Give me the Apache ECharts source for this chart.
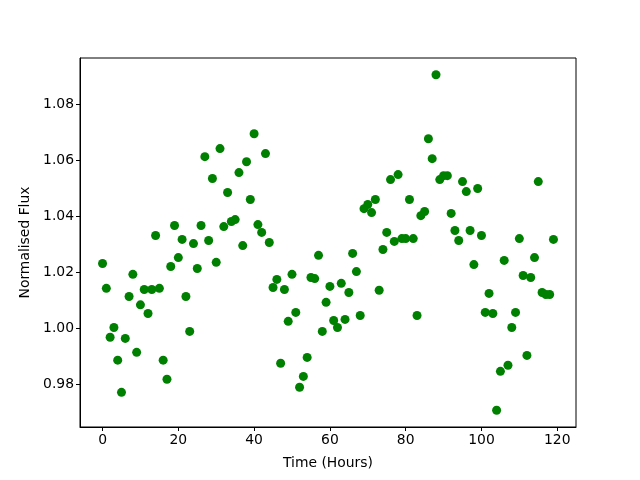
<!DOCTYPE html>
<html>
<head>
<meta charset="utf-8">
<script src="https://cdn.jsdelivr.net/npm/echarts@6/dist/echarts.min.js"></script>
<style>
  html, body { margin: 0; padding: 0; background: #fff; }
  #chart { width: 640px; height: 480px; }
</style>
</head>
<body>
<div id="chart"></div>
<script>
// time in hours
var hours = [
  0, 1, 2, 3, 4, 5, 6, 7, 8, 9, 10, 11, 12, 13, 14, 15, 16, 17, 18, 19,
  20, 21, 22, 23, 24, 25, 26, 27, 28, 29, 30, 31, 32, 33, 34, 35, 36, 37, 38, 39,
  40, 41, 42, 43, 44, 45, 46, 47, 48, 49, 50, 51, 52, 53, 54, 55, 56, 57, 58, 59,
  60, 61, 62, 63, 64, 65, 66, 67, 68, 69, 70, 71, 72, 73, 74, 75, 76, 77, 78, 79,
  80, 81, 82, 83, 84, 85, 86, 87, 88, 89, 90, 91, 92, 93, 94, 95, 96, 97, 98, 99,
  100, 101, 102, 103, 104, 105, 106, 107, 108, 109, 110, 111, 112, 113, 114, 115, 116, 117, 118, 119
];
// normalised flux
var flux = [
  1.0231, 1.0142, 0.9967, 1.0002, 0.9885, 0.9770, 0.9963, 1.0113, 1.0192, 0.9913,
  1.0083, 1.0138, 1.0052, 1.0138, 1.0331, 1.0142, 0.9885, 0.9817, 1.0220, 1.0367,
  1.0252, 1.0317, 1.0113, 0.9988, 1.0302, 1.0213, 1.0367, 1.0613, 1.0313, 1.0535,
  1.0235, 1.0642, 1.0363, 1.0485, 1.0381, 1.0388, 1.0556, 1.0295, 1.0595, 1.0460,
  1.0695, 1.0370, 1.0342, 1.0624, 1.0306, 1.0145, 1.0174, 0.9874, 1.0138, 1.0024,
  1.0192, 1.0056, 0.9788, 0.9827, 0.9895, 1.0181, 1.0177, 1.0260, 0.9988, 1.0092,
  1.0149, 1.0027, 1.0002, 1.0160, 1.0031, 1.0127, 1.0267, 1.0202, 1.0045, 1.0427,
  1.0442, 1.0413, 1.0460, 1.0135, 1.0281, 1.0342, 1.0531, 1.0310, 1.0549, 1.0320,
  1.0320, 1.0460, 1.0320, 1.0045, 1.0402, 1.0417, 1.0677, 1.0606, 1.0906, 1.0531,
  1.0545, 1.0545, 1.0410, 1.0349, 1.0313, 1.0524, 1.0488, 1.0349, 1.0227, 1.0499,
  1.0331, 1.0056, 1.0124, 1.0052, 0.9706, 0.9845, 1.0242, 0.9867, 1.0002, 1.0056,
  1.0320, 1.0188, 0.9902, 1.0181, 1.0252, 1.0524, 1.0127, 1.0120, 1.0120, 1.0317
];
var xTicks = [0, 20, 40, 60, 80, 100, 120];
var yTicks = [0.98, 1.00, 1.02, 1.04, 1.06, 1.08];

var myChart = echarts.init(document.getElementById("chart"));

var points = [];
for (var i = 0; i < hours.length; i++) {
  points.push([hours[i], flux[i]]);
}

var labelFont = {
  color: "#000",
  fontFamily: "DejaVu Sans",
  fontSize: 13.9,
};

myChart.setOption({
  backgroundColor: "#fff",
  animation: false,
  grid: {
    left: 80,
    right: 64,
    top: 58,
    bottom: 53,
    show: true,
    borderColor: "#000",
    borderWidth: 1,
    backgroundColor: "transparent",
  },
  xAxis: {
    type: "value",
    min: -5.95,
    max: 124.95,
    name: "Time (Hours)",
    nameLocation: "middle",
    nameGap: 29,
    nameTextStyle: labelFont,
    axisLine: { show: true, onZero: false, lineStyle: { color: "#000", width: 1 } },
    axisTick: {
      show: true,
      inside: false,
      length: 4,
      customValues: xTicks,
      lineStyle: { color: "#000" },
    },
    axisLabel: Object.assign({ margin: 6, customValues: xTicks }, labelFont),
    splitLine: { show: false },
  },
  yAxis: {
    type: "value",
    min: 0.9646,
    max: 1.0966,
    name: "Normalised Flux",
    nameLocation: "middle",
    nameRotate: 90,
    nameGap: 47,
    nameTextStyle: labelFont,
    axisLine: { show: true, onZero: false, lineStyle: { color: "#000", width: 1 } },
    axisTick: {
      show: true,
      inside: false,
      length: 4,
      customValues: yTicks,
      lineStyle: { color: "#000" },
    },
    axisLabel: Object.assign({
      margin: 6,
      customValues: yTicks,
      formatter: function (v) {
        return v.toFixed(2);
      },
    }, labelFont),
    splitLine: { show: false },
  },
  series: [
    {
      type: "scatter",
      data: points,
      symbol: "circle",
      symbolSize: 9,
      itemStyle: { color: "#008000", opacity: 1 },
    },
  ],
});
</script>
</body>
</html>
